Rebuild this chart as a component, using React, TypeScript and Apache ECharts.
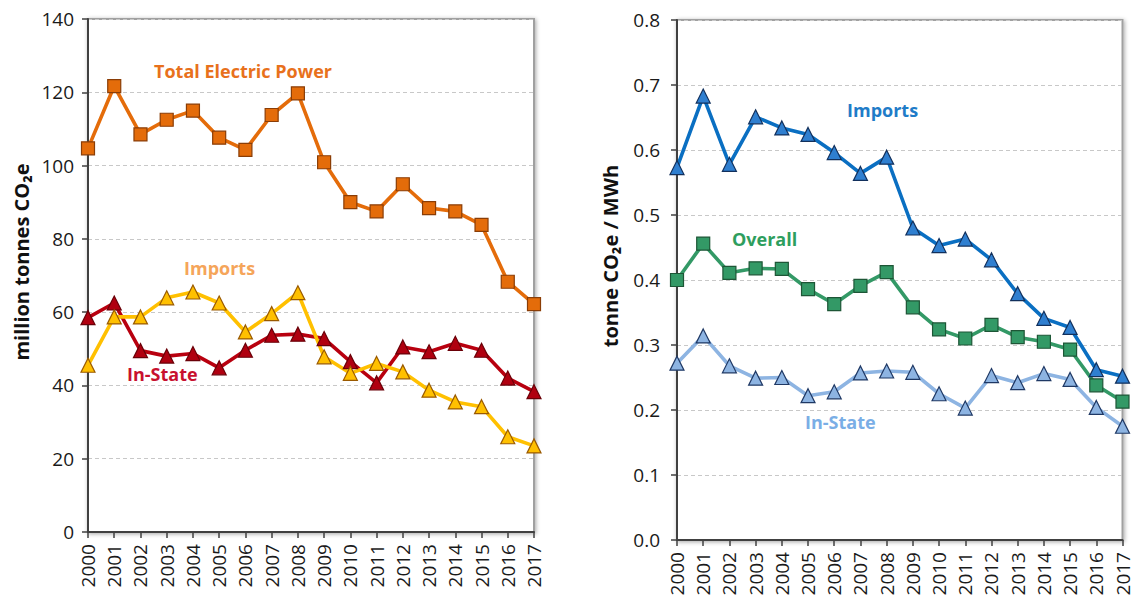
import React, { useEffect, useRef } from "react";
import * as echarts from "echarts";

const years = ["2000","2001","2002","2003","2004","2005","2006","2007","2008","2009","2010","2011","2012","2013","2014","2015","2016","2017"];

const totalElectric = [104.7,121.7,108.5,112.5,115,107.6,104.3,113.8,119.7,100.9,90,87.5,94.9,88.4,87.5,83.8,68.3,62.2];
const importsTonnes = [45.5,58.7,58.7,63.9,65.5,62.5,54.6,59.6,65.3,47.8,43.3,46,43.7,38.7,35.5,34.2,26,23.5];
const inStateTonnes = [58.5,62.5,49.5,48,48.7,44.8,49.6,53.7,54,52.8,46.5,40.7,50.5,49.2,51.5,49.6,42,38.3];

const importsIntensity = [0.573,0.683,0.578,0.651,0.634,0.624,0.596,0.564,0.589,0.48,0.453,0.463,0.431,0.379,0.341,0.327,0.262,0.252];
const overallIntensity = [0.40,0.456,0.411,0.418,0.417,0.386,0.363,0.391,0.412,0.358,0.324,0.31,0.331,0.312,0.305,0.293,0.238,0.213];
const inStateIntensity = [0.272,0.314,0.268,0.249,0.25,0.222,0.228,0.257,0.26,0.258,0.225,0.203,0.253,0.242,0.256,0.247,0.204,0.175];

const leftTicks = [0,20,40,60,80,100,120,140];
const rightTicks = [0,0.1,0.2,0.3,0.4,0.5,0.6,0.7,0.8];

const FONT = "Open Sans";

export default function App() {
  const ref = useRef<HTMLDivElement>(null);
  useEffect(() => {
    document.body.style.margin = "0";
    const chart = echarts.init(ref.current!, null, { renderer: "svg" });
    const gridCommon = {
      show: true,
      borderColor: "#a0a0a0",
      borderWidth: 2,
      backgroundColor: "#ffffff",
      shadowColor: "rgba(0,0,0,0.35)",
      shadowBlur: 4,
      shadowOffsetX: 1,
      shadowOffsetY: 1,
    };
    const xCommon = {
      type: "category",
      data: years,
      boundaryGap: false,
      axisLine: { show: true, lineStyle: { color: "#404040", width: 2 } },
      axisTick: { show: true, alignWithLabel: true, length: 6, lineStyle: { color: "#404040", width: 1.5 } },
      axisLabel: { rotate: 90, fontFamily: FONT, fontSize: 19, color: "#1a1a1a", margin: 12, interval: 0 },
      splitLine: { show: false },
    };
    const yCommon = {
      type: "value",
      axisLine: { show: true, lineStyle: { color: "#404040", width: 2 } },
      axisTick: { show: true, length: 6, lineStyle: { color: "#404040", width: 1.5 } },
      splitLine: { show: true, lineStyle: { color: "#c8c8c8", type: [4, 3], width: 1.2 } },
    };
    const mk = (name: string, data: number[], xi: number, lineColor: string, symbol: string, fill: string, border: string) => ({
      type: "line",
      name,
      xAxisIndex: xi,
      yAxisIndex: xi,
      data,
      symbol,
      symbolSize: symbol === "rect" ? 13 : 14,
      lineStyle: { color: lineColor, width: 3.6 },
      itemStyle: { color: fill, borderColor: border, borderWidth: 1.2 },
      z: 3,
    });
    const label = (text: string, left: number, top: number, fill: string) => ({
      type: "text", left, top,
      style: { text, fontFamily: FONT, fontSize: 18, fontWeight: "bold", fill },
    });
    chart.setOption({
      animation: false,
      grid: [
        { ...gridCommon, left: 88, right: 598, top: 19, bottom: 69 },
        { ...gridCommon, left: 677, right: 5, top: 20, bottom: 61 },
      ],
      xAxis: [
        { ...xCommon, gridIndex: 0 },
        { ...xCommon, gridIndex: 1 },
      ],
      yAxis: [
        {
          ...yCommon,
          gridIndex: 0,
          min: leftTicks[0],
          max: leftTicks[leftTicks.length - 1],
          interval: 20,
          axisLabel: { fontFamily: FONT, fontSize: 19, color: "#1a1a1a", margin: 14 },
        },
        {
          ...yCommon,
          gridIndex: 1,
          min: rightTicks[0],
          max: rightTicks[rightTicks.length - 1],
          interval: 0.1,
          axisLabel: { fontFamily: FONT, fontSize: 19, color: "#1a1a1a", margin: 17, formatter: (v: number) => v.toFixed(1) },
        },
      ],
      graphic: [
        {
          type: "text", x: 21, y: 262, rotation: Math.PI / 2,
          style: { text: "million tonnes CO₂e", fontFamily: FONT, fontSize: 20, fontWeight: "bold", fill: "#111", align: "center", verticalAlign: "middle" },
        },
        {
          type: "text", x: 610, y: 256, rotation: Math.PI / 2,
          style: { text: "tonne CO₂e / MWh", fontFamily: FONT, fontSize: 20, fontWeight: "bold", fill: "#111", align: "center", verticalAlign: "middle" },
        },
        label("Total Electric Power", 154, 62, "#e8711c"),
        label("Imports", 184, 259, "#f5a55a"),
        label("In-State", 127, 365, "#c8102e"),
        label("Imports", 847, 101, "#1f7cc8"),
        label("Overall", 732, 230, "#2e9e5e"),
        label("In-State", 805, 413, "#7aaee6"),
      ],
      series: [
        mk("Total Electric Power", totalElectric, 0, "#e46c0a", "rect", "#e46c0a", "#8a3d06"),
        mk("In-State", inStateTonnes, 0, "#b8000f", "triangle", "#b00010", "#6a0008"),
        mk("Imports", importsTonnes, 0, "#ffc000", "triangle", "#ffc000", "#9a5a00"),
        mk("In-State intensity", inStateIntensity, 1, "#8db4e2", "triangle", "#8db4e2", "#1f3864"),
        mk("Overall", overallIntensity, 1, "#339966", "rect", "#339966", "#1d5636"),
        mk("Imports intensity", importsIntensity, 1, "#0a6fc2", "triangle", "#2f7fd0", "#12305c"),
      ],
    });
    return () => chart.dispose();
  }, []);
  return <div ref={ref} style={{ width: 1132, height: 601 }} />;
}
